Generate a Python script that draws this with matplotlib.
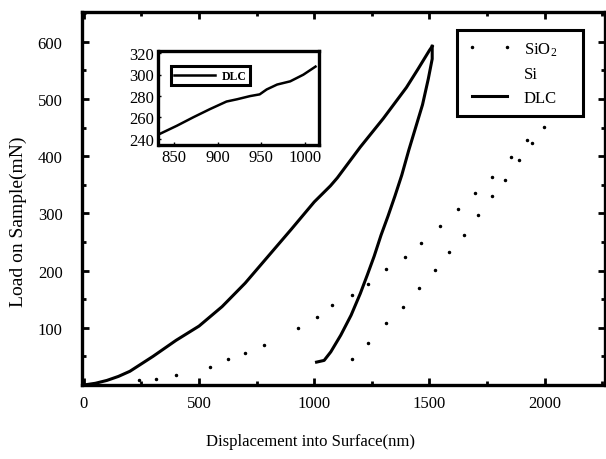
import matplotlib
matplotlib.use("Agg")
import matplotlib.pyplot as plt
from matplotlib.ticker import MultipleLocator

plt.rcParams['font.family'] = ['Liberation Serif', 'DejaVu Serif']
plt.rcParams['mathtext.fontset'] = 'custom'
plt.rcParams['mathtext.rm'] = 'Liberation Serif'
plt.rcParams['mathtext.default'] = 'regular'

# ---- data ----
dlc_load_x = [0, 50, 100, 150, 200, 300, 400, 500, 600, 700, 800, 900, 1000, 1070, 1100,
              1200, 1300, 1400, 1450, 1500, 1512]
dlc_load_y = [0, 3, 8, 15, 24, 50, 78, 103, 137, 178, 225, 272, 320, 348, 362,
              416, 466, 520, 552, 585, 592]
dlc_unload_x = [1512, 1512, 1495, 1470, 1440, 1410, 1380, 1350, 1320, 1290, 1260, 1230,
                1200, 1160, 1115, 1072, 1043, 1010]
dlc_unload_y = [592, 570, 535, 490, 450, 410, 367, 330, 295, 262, 225, 192,
                160, 122, 87, 58, 43, 40]

sio2_load_x = [241, 314, 398, 546, 625, 699, 781, 929, 1012, 1075, 1162, 1234, 1311,
               1394, 1463, 1548, 1624, 1699, 1770, 1853, 1922, 1999]
sio2_load_y = [8, 11, 18, 32, 46, 56, 70, 99, 118, 139, 158, 176, 202,
               224, 249, 278, 307, 335, 364, 398, 428, 451]
sio2_unload_x = [1946, 1889, 1828, 1770, 1710, 1652, 1583, 1523, 1454, 1387, 1312, 1234, 1165]
sio2_unload_y = [423, 393, 359, 330, 297, 262, 233, 201, 170, 137, 109, 74, 45]

si_x = []
si_y = []

inset_x = [834, 853, 872, 891, 910, 922, 937, 948, 956, 968, 983, 998, 1012]
inset_y = [244.6, 252, 260, 267.6, 274.7, 276.8, 279.8, 281.4, 286, 290.6, 293.6, 299.8, 307.4]

x_ticks = [0, 500, 1000, 1500, 2000]
y_ticks = [100, 200, 300, 400, 500, 600]
inset_xticks = [850, 900, 950, 1000]
inset_yticks = [240, 260, 280, 300, 320]

# ---- figure ----
fig = plt.figure(figsize=(6.06, 4.60), dpi=100)
ax = fig.add_axes([82/606, 1-386/460, (605-82)/606, (386-13)/460])

ax.plot(sio2_load_x, sio2_load_y, linestyle='none', marker='o', markersize=1.5,
        color='black', label='SiO$_2$')
ax.plot(sio2_unload_x, sio2_unload_y, linestyle='none', marker='o', markersize=1.5,
        color='black')
ax.plot(si_x, si_y, linestyle='none', color='black', label='Si')
ax.plot(dlc_load_x, dlc_load_y, color='black', linewidth=2.2, label='DLC')
ax.plot(dlc_unload_x, dlc_unload_y, color='black', linewidth=2.2)

ax.set_xlim(-8, 2262)
ax.set_ylim(0, 652)
ax.set_xticks(x_ticks)
ax.set_yticks(y_ticks)
ax.xaxis.set_minor_locator(MultipleLocator(250))
ax.yaxis.set_minor_locator(MultipleLocator(50))
ax.tick_params(which='both', direction='in', top=True, right=True, width=2,
               labelsize=12)
ax.tick_params(which='major', length=5)
ax.tick_params(which='minor', length=3)
ax.tick_params(axis='x', pad=7)
ax.tick_params(axis='y', pad=14)
for s in ax.spines.values():
    s.set_linewidth(2.4)

ax.set_xlabel('Displacement into Surface(nm)', fontsize=12)
ax.xaxis.set_label_coords(0.436, -0.13)
ax.set_ylabel('Load on Sample(mN)', fontsize=14)
ax.yaxis.set_label_coords(-0.105, 0.441)

leg = ax.legend(loc='upper left', bbox_to_anchor=(0.717, 0.5, 0.241, 0.451),
                mode='expand', borderaxespad=0, fontsize=12,
                numpoints=2, handlelength=2.7, handletextpad=0.7, borderpad=0.6,
                labelspacing=0.48, fancybox=False, framealpha=1, edgecolor='black')
leg.get_frame().set_linewidth(2.2)

# ---- inset ----
axi = fig.add_axes([158.5/606, 1-146/460, (319-158.5)/606, (146-52)/460])
axi.plot(inset_x, inset_y, color='black', linewidth=1.8, label='DLC')
axi.set_xlim(832, 1016)
axi.set_ylim(234, 322)
axi.set_xticks(inset_xticks)
axi.set_yticks(inset_yticks)
axi.tick_params(direction='in', length=2, width=1, labelsize=12, pad=3)
for s in axi.spines.values():
    s.set_linewidth(2.4)
ileg = axi.legend(loc='upper left', bbox_to_anchor=(0.04, 0.9), handlelength=3.4,
                  handletextpad=0.6, borderpad=0.3, fancybox=False, framealpha=1,
                  edgecolor='black', prop={'size': 8.5, 'weight': 'bold'})
ileg.get_frame().set_linewidth(2.2)

fig.savefig('out.png', dpi=100)
